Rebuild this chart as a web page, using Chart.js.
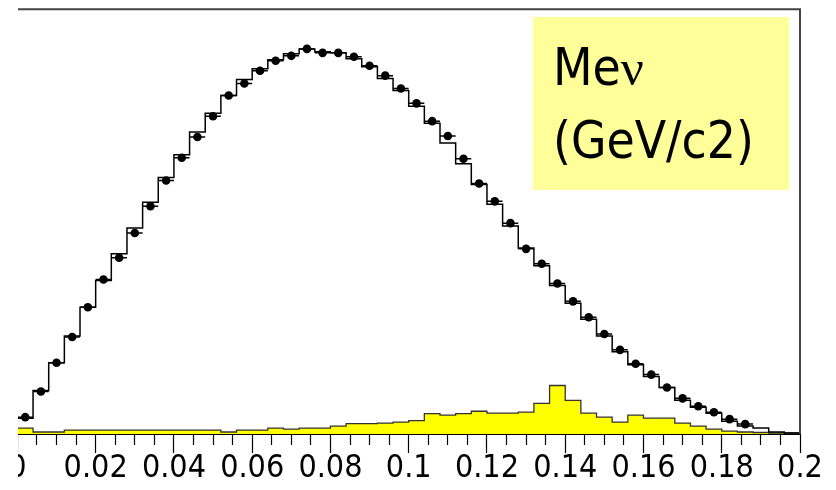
<!DOCTYPE html>
<html>
<head>
<meta charset="utf-8">
<script src="https://cdn.jsdelivr.net/npm/chart.js@4"></script>
<style>
  html, body { margin: 0; padding: 0; background: #fff; }
  #clip { position: absolute; left: 18px; top: 0; width: 818px; height: 490px; overflow: hidden; }
  #wrap { position: absolute; left: -18px; top: 0; width: 836px; height: 490px; }
  #label {
    position: absolute; left: 533px; top: 17px; width: 256px; height: 173px;
    background: #ffff99;
    font-family: 'DejaVu Sans Condensed', 'Liberation Sans', sans-serif;
    font-size: 51px; line-height: 1; color: #000;
  }
  #label div { position: absolute; left: 20px; white-space: nowrap; }
  #label .nu { font-family: 'Liberation Serif', 'DejaVu Serif', serif; }
</style>
</head>
<body>
<div id="clip"><div id="wrap"><canvas id="chart"></canvas></div></div>
<div id="label">
  <div style="top:25px">Me<span class="nu">ν</span></div>
  <div style="top:98px">(GeV/c2)</div>
</div>
<script>
// bin edges of the 50-bin histogram, GeV/c2
const binEdges = [
  0, 0.004, 0.008, 0.012, 0.016, 0.02, 0.024, 0.028, 0.032, 0.036,
  0.04, 0.044, 0.048, 0.052, 0.056, 0.06, 0.064, 0.068, 0.072, 0.076,
  0.08, 0.084, 0.088, 0.092, 0.096, 0.1, 0.104, 0.108, 0.112, 0.116,
  0.12, 0.124, 0.128, 0.132, 0.136, 0.14, 0.144, 0.148, 0.152, 0.156,
  0.16, 0.164, 0.168, 0.172, 0.176, 0.18, 0.184, 0.188, 0.192, 0.196, 0.2,
];
const binCenters = [
  0.002, 0.006, 0.01, 0.014, 0.018, 0.022, 0.026, 0.03, 0.034, 0.038,
  0.042, 0.046, 0.05, 0.054, 0.058, 0.062, 0.066, 0.07, 0.074, 0.078,
  0.082, 0.086, 0.09, 0.094, 0.098, 0.102, 0.106, 0.11, 0.114, 0.118,
  0.122, 0.126, 0.13, 0.134, 0.138, 0.142, 0.146, 0.15, 0.154, 0.158,
  0.162, 0.166, 0.17, 0.174, 0.178, 0.182, 0.186, 0.19, 0.194, 0.198,
];
// simulation (black histogram)
const mcCounts = [
  16, 44, 72, 99, 128, 155, 182, 208, 234, 259,
  282, 305, 324, 342, 358, 369, 378, 384, 389, 386,
  385, 379, 371, 359, 347, 331, 314, 294, 273, 252,
  232, 210, 188, 170, 150, 132, 116, 99, 83, 70,
  58, 47, 34, 27, 21, 13, 8, 6, 2, 1,
];
// data (dots)
const dataCounts = [
  17, 43, 72, 98, 128, 156, 178, 203, 230, 256,
  279, 300, 321, 342, 354, 367, 377, 382, 389, 385,
  385, 381, 372, 362, 349, 334, 316, 301, 278, 253,
  235, 213, 187, 172, 152, 134, 118, 101, 85, 71,
  60, 47, 36, 28, 22, 15, 10, null, null, null,
];
// background (yellow histogram)
const bkgCounts = [
  6, 2, 2, 4, 4, 4, 4, 4, 4, 4,
  4, 4, 4, 2, 4, 4, 6, 5, 6, 6,
  8, 10.5, 10.5, 11, 12, 13.5, 20.5, 19, 20.5, 23,
  21, 21, 22, 31, 49, 34, 21, 17, 12, 19,
  16, 16, 11, 8, 5, 3, 2, 1.5, 1, 1,
];
const xTicks = [
  0, 0.005, 0.01, 0.015, 0.02, 0.025, 0.03, 0.035, 0.04, 0.045,
  0.05, 0.055, 0.06, 0.065, 0.07, 0.075, 0.08, 0.085, 0.09, 0.095,
  0.1, 0.105, 0.11, 0.115, 0.12, 0.125, 0.13, 0.135, 0.14, 0.145,
  0.15, 0.155, 0.16, 0.165, 0.17, 0.175, 0.18, 0.185, 0.19, 0.195, 0.2,
];

const isMajor = (v) => Math.abs(v / 0.02 - Math.round(v / 0.02)) < 1e-6;

// histogram outline: one point per low edge, plus the closing edge
function stepPoints(counts) {
  return binEdges.map((e, i) => ({ x: e, y: counts[Math.min(i, counts.length - 1)] }));
}

const dataPoints = binCenters
  .map((c, i) => ({ x: c, y: dataCounts[i] }))
  .filter((p) => p.y !== null);

const frame = {
  id: "frame",
  afterDraw(chart) {
    const { ctx, chartArea: a } = chart;
    ctx.save();
    ctx.strokeStyle = "#444";
    ctx.lineWidth = 2;
    ctx.beginPath();
    ctx.moveTo(a.left, a.top);
    ctx.lineTo(a.right, a.top);
    ctx.lineTo(a.right, a.bottom);
    ctx.stroke();
    ctx.restore();
  },
};

const tickFont = { family: "'DejaVu Sans Condensed', 'Liberation Sans', sans-serif", size: 32, lineHeight: 1 };

new Chart(document.getElementById("chart"), {
  type: "line",
  data: {
    datasets: [
      {
        label: "data",
        type: "scatter",
        data: dataPoints,
        pointRadius: 4.3,
        pointBackgroundColor: "#000",
        pointBorderWidth: 0,
        showLine: false,
        order: 0,
      },
      {
        label: "data x-error",
        type: "scatter",
        data: dataPoints,
        pointStyle: "line",
        pointRadius: 7.8,
        pointBorderColor: "#000",
        pointBorderWidth: 1.5,
        showLine: false,
        order: 1,
      },
      {
        label: "MC",
        data: stepPoints(mcCounts),
        stepped: "before",
        borderColor: "#000",
        borderWidth: 1.5,
        pointRadius: 0,
        fill: false,
        order: 2,
      },
      {
        label: "background",
        data: stepPoints(bkgCounts),
        stepped: "before",
        borderColor: "#333",
        borderWidth: 1.3,
        backgroundColor: "#ffff00",
        pointRadius: 0,
        fill: "origin",
        order: 3,
      },
    ],
  },
  options: {
    responsive: true,
    maintainAspectRatio: false,
    animation: false,
    events: [],
    layout: { padding: { left: 17.4, right: 36, top: 5, bottom: 5 } },
    plugins: { legend: { display: false }, tooltip: { enabled: false } },
    scales: {
      x: {
        type: "linear",
        min: 0,
        max: 0.2,
        afterBuildTicks: (scale) => { scale.ticks = xTicks.map((v) => ({ value: v })); },
        border: { display: true, color: "#000", width: 1 },
        grid: {
          drawOnChartArea: false,
          tickLength: 19,
          tickColor: "#000",
          tickWidth: 1.2,
          tickBorderDash: (ctx) => (ctx.tick && isMajor(ctx.tick.value) ? [] : [10, 40]),
        },
        ticks: {
          autoSkip: false,
          maxRotation: 0,
          padding: 0,
          color: "#000",
          font: tickFont,
          callback: (v) => (isMajor(v) ? String(+v.toFixed(3)) : ""),
        },
      },
      y: { display: false, min: 0, max: 429 },
    },
  },
  plugins: [frame],
});
</script>
</body>
</html>
